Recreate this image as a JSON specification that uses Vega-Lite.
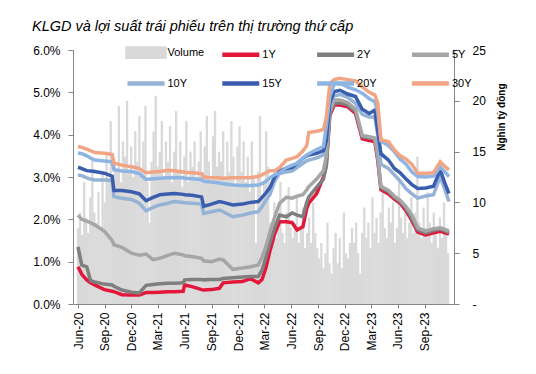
{
  "$schema": "https://vega.github.io/schema/vega-lite/v6.json",
  "width": 381,
  "height": 254,
  "autosize": "none",
  "padding": {"left": 73, "top": 50, "right": 82, "bottom": 70},
  "background": "white",
  "title": {
    "text": "KLGD và lợi suất trái phiếu trên thị trường thứ cấp",
    "anchor": "start",
    "frame": "group",
    "dx": -41,
    "dy": 28,
    "offset": 23,
    "baseline": "alphabetic",
    "font": "Liberation Sans",
    "fontStyle": "italic",
    "fontWeight": "normal",
    "fontSize": 14.5,
    "color": "#000000"
  },
  "config": {
    "view": {"stroke": null},
    "font": "Liberation Sans",
    "axis": {
      "domainColor": "#868686",
      "tickColor": "#868686",
      "labelColor": "#000000",
      "labelFont": "Liberation Sans",
      "labelFontSize": 12,
      "labelOverlap": false,
      "grid": false,
      "tickSize": 5
    },
    "axisX": {
      "format": "%b-%y",
      "labelAngle": -90,
      "labelOverlap": false,
      "labelFlush": false,
      "labelBound": false,
      "tickSize": 4,
      "labelPadding": 4
    }
  },
  "datasets": {
    "vol": [
      {"d":"2020-06-01","v":7.5},{"d":"2020-06-08","v":9},{"d":"2020-06-15","v":6.8},{"d":"2020-06-22","v":12},{"d":"2020-06-29","v":8.5},
      {"d":"2020-07-06","v":7},{"d":"2020-07-13","v":10.5},{"d":"2020-07-20","v":14.5},{"d":"2020-07-27","v":9},
      {"d":"2020-08-03","v":8},{"d":"2020-08-10","v":11},{"d":"2020-08-17","v":7.5},{"d":"2020-08-24","v":13},{"d":"2020-08-31","v":10},
      {"d":"2020-09-07","v":15},{"d":"2020-09-14","v":12},{"d":"2020-09-21","v":18},{"d":"2020-09-28","v":11.5},
      {"d":"2020-10-05","v":14},{"d":"2020-10-12","v":13},{"d":"2020-10-19","v":19.5},{"d":"2020-10-26","v":12},
      {"d":"2020-11-02","v":16},{"d":"2020-11-09","v":14.5},{"d":"2020-11-16","v":20},{"d":"2020-11-23","v":13},{"d":"2020-11-30","v":15.5},
      {"d":"2020-12-07","v":12.5},{"d":"2020-12-14","v":17},{"d":"2020-12-21","v":14},{"d":"2020-12-28","v":18.5},
      {"d":"2021-01-04","v":13},{"d":"2021-01-11","v":16},{"d":"2021-01-18","v":19.5},{"d":"2021-01-25","v":12},
      {"d":"2021-02-01","v":8},{"d":"2021-02-08","v":14},{"d":"2021-02-15","v":17},{"d":"2021-02-22","v":20.5},
      {"d":"2021-03-01","v":13.5},{"d":"2021-03-08","v":15},{"d":"2021-03-15","v":18},{"d":"2021-03-22","v":12.5},{"d":"2021-03-29","v":16},
      {"d":"2021-04-05","v":14},{"d":"2021-04-12","v":17.5},{"d":"2021-04-19","v":12},{"d":"2021-04-26","v":15},
      {"d":"2021-05-03","v":19},{"d":"2021-05-10","v":13},{"d":"2021-05-17","v":16},{"d":"2021-05-24","v":11.5},{"d":"2021-05-31","v":14.5},
      {"d":"2021-06-07","v":18},{"d":"2021-06-14","v":12},{"d":"2021-06-21","v":15},{"d":"2021-06-28","v":13.5},
      {"d":"2021-07-05","v":16},{"d":"2021-07-12","v":12.5},{"d":"2021-07-19","v":14},{"d":"2021-07-26","v":17},
      {"d":"2021-08-02","v":13},{"d":"2021-08-09","v":15.5},{"d":"2021-08-16","v":18.5},{"d":"2021-08-23","v":14},{"d":"2021-08-30","v":12},
      {"d":"2021-09-06","v":16.5},{"d":"2021-09-13","v":19},{"d":"2021-09-20","v":13.5},{"d":"2021-09-27","v":15},
      {"d":"2021-10-04","v":14},{"d":"2021-10-11","v":17},{"d":"2021-10-18","v":12.5},{"d":"2021-10-25","v":16},
      {"d":"2021-11-01","v":13},{"d":"2021-11-08","v":18},{"d":"2021-11-15","v":14.5},{"d":"2021-11-22","v":11.5},{"d":"2021-11-29","v":15.5},
      {"d":"2021-12-06","v":17.5},{"d":"2021-12-13","v":13},{"d":"2021-12-20","v":16},{"d":"2021-12-27","v":12},
      {"d":"2022-01-03","v":14.5},{"d":"2022-01-10","v":11},{"d":"2022-01-17","v":16},{"d":"2022-01-24","v":12.5},{"d":"2022-01-31","v":6},
      {"d":"2022-02-07","v":13},{"d":"2022-02-14","v":18.5},{"d":"2022-02-21","v":10.5},{"d":"2022-02-28","v":12},
      {"d":"2022-03-07","v":17},{"d":"2022-03-14","v":13.5},{"d":"2022-03-21","v":8},{"d":"2022-03-28","v":7},
      {"d":"2022-04-04","v":10},{"d":"2022-04-11","v":6.5},{"d":"2022-04-18","v":8.5},{"d":"2022-04-25","v":12},
      {"d":"2022-05-02","v":7},{"d":"2022-05-09","v":6},{"d":"2022-05-16","v":9},{"d":"2022-05-23","v":11.5},{"d":"2022-05-30","v":7.5},
      {"d":"2022-06-06","v":6.5},{"d":"2022-06-13","v":8},{"d":"2022-06-20","v":10.5},{"d":"2022-06-27","v":6},
      {"d":"2022-07-04","v":7.5},{"d":"2022-07-11","v":9.5},{"d":"2022-07-18","v":5.5},{"d":"2022-07-25","v":7},
      {"d":"2022-08-01","v":8.5},{"d":"2022-08-08","v":6},{"d":"2022-08-15","v":10},{"d":"2022-08-22","v":7},{"d":"2022-08-29","v":5.5},
      {"d":"2022-09-05","v":4.5},{"d":"2022-09-12","v":6},{"d":"2022-09-19","v":3.5},{"d":"2022-09-26","v":5},
      {"d":"2022-10-03","v":8},{"d":"2022-10-10","v":4},{"d":"2022-10-17","v":3},{"d":"2022-10-24","v":5.5},{"d":"2022-10-31","v":7},
      {"d":"2022-11-07","v":4},{"d":"2022-11-14","v":6.5},{"d":"2022-11-21","v":3.5},{"d":"2022-11-28","v":9},
      {"d":"2022-12-05","v":5},{"d":"2022-12-12","v":4.5},{"d":"2022-12-19","v":6},{"d":"2022-12-26","v":7.5},
      {"d":"2023-01-02","v":6},{"d":"2023-01-09","v":8},{"d":"2023-01-16","v":5},{"d":"2023-01-23","v":3},{"d":"2023-01-30","v":7},
      {"d":"2023-02-06","v":9.5},{"d":"2023-02-13","v":6.5},{"d":"2023-02-20","v":8},{"d":"2023-02-27","v":5.5},
      {"d":"2023-03-06","v":10.5},{"d":"2023-03-13","v":7},{"d":"2023-03-20","v":8.5},{"d":"2023-03-27","v":6},
      {"d":"2023-04-03","v":9},{"d":"2023-04-10","v":11},{"d":"2023-04-17","v":7.5},{"d":"2023-04-24","v":6.5},
      {"d":"2023-05-01","v":9.5},{"d":"2023-05-08","v":8},{"d":"2023-05-15","v":10},{"d":"2023-05-22","v":6},{"d":"2023-05-29","v":7.5},
      {"d":"2023-06-05","v":12},{"d":"2023-06-12","v":8.5},{"d":"2023-06-19","v":7},{"d":"2023-06-26","v":9},
      {"d":"2023-07-03","v":6.5},{"d":"2023-07-10","v":8},{"d":"2023-07-17","v":10.5},{"d":"2023-07-24","v":7},{"d":"2023-07-31","v":9},
      {"d":"2023-08-07","v":14.5},{"d":"2023-08-14","v":8},{"d":"2023-08-21","v":6.5},{"d":"2023-08-28","v":9.5},
      {"d":"2023-09-04","v":7.5},{"d":"2023-09-11","v":11},{"d":"2023-09-18","v":8},{"d":"2023-09-25","v":6},
      {"d":"2023-10-02","v":9},{"d":"2023-10-09","v":7},{"d":"2023-10-16","v":5.5},{"d":"2023-10-23","v":8.5},{"d":"2023-10-30","v":6.5},
      {"d":"2023-11-06","v":10},{"d":"2023-11-13","v":7},{"d":"2023-11-20","v":5}
    ],
    "yld": [
      {"d":"2020-06-01","1Y":0.88,"2Y":1.35,"5Y":2.10,"10Y":3.05,"15Y":3.23,"20Y":3.57,"30Y":3.72},
      {"d":"2020-06-14","1Y":0.70,"2Y":0.92,"5Y":2.00,"10Y":3.03,"15Y":3.20,"20Y":3.55,"30Y":3.70},
      {"d":"2020-07-01","1Y":0.57,"2Y":0.88,"5Y":1.96,"10Y":2.98,"15Y":3.15,"20Y":3.50,"30Y":3.66},
      {"d":"2020-07-14","1Y":0.50,"2Y":0.55,"5Y":1.92,"10Y":2.95,"15Y":3.14,"20Y":3.45,"30Y":3.62},
      {"d":"2020-07-28","1Y":0.45,"2Y":0.52,"5Y":1.87,"10Y":2.93,"15Y":3.13,"20Y":3.40,"30Y":3.58},
      {"d":"2020-08-30","1Y":0.34,"2Y":0.47,"5Y":1.72,"10Y":2.93,"15Y":3.09,"20Y":3.38,"30Y":3.56},
      {"d":"2020-09-26","1Y":0.30,"2Y":0.45,"5Y":1.50,"10Y":2.92,"15Y":3.02,"20Y":3.36,"30Y":3.53},
      {"d":"2020-10-02","1Y":0.29,"2Y":0.42,"5Y":1.40,"10Y":2.54,"15Y":2.68,"20Y":3.17,"30Y":3.33},
      {"d":"2020-10-29","1Y":0.22,"2Y":0.33,"5Y":1.34,"10Y":2.50,"15Y":2.68,"20Y":3.14,"30Y":3.28},
      {"d":"2020-12-01","1Y":0.21,"2Y":0.28,"5Y":1.20,"10Y":2.47,"15Y":2.65,"20Y":3.13,"30Y":3.24},
      {"d":"2020-12-28","1Y":0.21,"2Y":0.26,"5Y":1.15,"10Y":2.38,"15Y":2.60,"20Y":3.08,"30Y":3.20},
      {"d":"2021-01-20","1Y":0.27,"2Y":0.44,"5Y":1.18,"10Y":2.20,"15Y":2.44,"20Y":2.94,"30Y":3.10},
      {"d":"2021-02-13","1Y":0.27,"2Y":0.46,"5Y":1.05,"10Y":2.28,"15Y":2.52,"20Y":2.96,"30Y":3.12},
      {"d":"2021-03-08","1Y":0.28,"2Y":0.48,"5Y":1.08,"10Y":2.34,"15Y":2.58,"20Y":2.97,"30Y":3.13},
      {"d":"2021-04-04","1Y":0.29,"2Y":0.49,"5Y":1.15,"10Y":2.38,"15Y":2.60,"20Y":2.98,"30Y":3.16},
      {"d":"2021-04-27","1Y":0.29,"2Y":0.49,"5Y":1.20,"10Y":2.42,"15Y":2.61,"20Y":2.99,"30Y":3.15},
      {"d":"2021-05-27","1Y":0.30,"2Y":0.50,"5Y":1.16,"10Y":2.40,"15Y":2.59,"20Y":2.98,"30Y":3.12},
      {"d":"2021-06-01","1Y":0.45,"2Y":0.57,"5Y":1.14,"10Y":2.39,"15Y":2.58,"20Y":2.97,"30Y":3.11},
      {"d":"2021-06-26","1Y":0.41,"2Y":0.58,"5Y":1.12,"10Y":2.38,"15Y":2.57,"20Y":2.96,"30Y":3.10},
      {"d":"2021-07-29","1Y":0.34,"2Y":0.58,"5Y":1.08,"10Y":2.36,"15Y":2.53,"20Y":2.94,"30Y":3.08},
      {"d":"2021-08-05","1Y":0.33,"2Y":0.57,"5Y":1.02,"10Y":2.14,"15Y":2.31,"20Y":2.90,"30Y":3.00},
      {"d":"2021-09-01","1Y":0.34,"2Y":0.58,"5Y":1.00,"10Y":2.18,"15Y":2.36,"20Y":2.88,"30Y":2.98},
      {"d":"2021-09-28","1Y":0.37,"2Y":0.58,"5Y":1.06,"10Y":2.22,"15Y":2.42,"20Y":2.86,"30Y":2.98},
      {"d":"2021-10-11","1Y":0.50,"2Y":0.60,"5Y":1.04,"10Y":2.18,"15Y":2.40,"20Y":2.84,"30Y":2.97},
      {"d":"2021-11-13","1Y":0.52,"2Y":0.62,"5Y":0.82,"10Y":2.06,"15Y":2.34,"20Y":2.81,"30Y":2.98},
      {"d":"2021-12-16","1Y":0.53,"2Y":0.64,"5Y":0.85,"10Y":2.10,"15Y":2.36,"20Y":2.80,"30Y":2.98},
      {"d":"2022-01-12","1Y":0.60,"2Y":0.65,"5Y":0.88,"10Y":2.15,"15Y":2.40,"20Y":2.80,"30Y":2.99},
      {"d":"2022-02-08","1Y":0.50,"2Y":0.65,"5Y":0.92,"10Y":2.18,"15Y":2.42,"20Y":2.81,"30Y":3.01},
      {"d":"2022-02-21","1Y":0.58,"2Y":0.80,"5Y":1.10,"10Y":2.30,"15Y":2.52,"20Y":2.84,"30Y":3.05},
      {"d":"2022-03-06","1Y":0.85,"2Y":1.10,"5Y":1.35,"10Y":2.45,"15Y":2.62,"20Y":2.90,"30Y":3.10},
      {"d":"2022-03-20","1Y":1.25,"2Y":1.45,"5Y":1.70,"10Y":2.58,"15Y":2.75,"20Y":2.98,"30Y":3.15},
      {"d":"2022-04-05","1Y":1.65,"2Y":1.80,"5Y":2.05,"10Y":2.90,"15Y":3.00,"20Y":3.05,"30Y":3.15},
      {"d":"2022-04-22","1Y":1.94,"2Y":2.10,"5Y":2.38,"10Y":3.08,"15Y":3.15,"20Y":3.10,"30Y":3.22},
      {"d":"2022-05-15","1Y":1.94,"2Y":2.06,"5Y":2.52,"10Y":3.12,"15Y":3.20,"20Y":3.22,"30Y":3.40},
      {"d":"2022-06-04","1Y":1.92,"2Y":2.15,"5Y":2.50,"10Y":3.14,"15Y":3.22,"20Y":3.28,"30Y":3.44},
      {"d":"2022-06-21","1Y":1.75,"2Y":2.10,"5Y":2.55,"10Y":3.22,"15Y":3.32,"20Y":3.32,"30Y":3.48},
      {"d":"2022-07-11","1Y":1.83,"2Y":2.06,"5Y":2.58,"10Y":3.32,"15Y":3.44,"20Y":3.45,"30Y":3.62},
      {"d":"2022-07-24","1Y":2.25,"2Y":2.40,"5Y":2.70,"10Y":3.38,"15Y":3.50,"20Y":3.52,"30Y":3.74},
      {"d":"2022-07-31","1Y":2.38,"2Y":2.53,"5Y":2.77,"10Y":3.40,"15Y":3.52,"20Y":3.55,"30Y":4.05},
      {"d":"2022-08-27","1Y":2.61,"2Y":2.76,"5Y":2.95,"10Y":3.45,"15Y":3.56,"20Y":3.65,"30Y":4.08},
      {"d":"2022-09-19","1Y":3.00,"2Y":2.95,"5Y":3.15,"10Y":3.52,"15Y":3.62,"20Y":3.72,"30Y":4.12},
      {"d":"2022-09-29","1Y":3.30,"2Y":3.25,"5Y":3.50,"10Y":3.90,"15Y":3.85,"20Y":4.20,"30Y":4.40},
      {"d":"2022-10-11","1Y":4.45,"2Y":4.50,"5Y":4.55,"10Y":4.70,"15Y":4.75,"20Y":4.90,"30Y":5.20},
      {"d":"2022-10-26","1Y":4.70,"2Y":4.74,"5Y":4.82,"10Y":4.92,"15Y":5.02,"20Y":5.20,"30Y":5.30},
      {"d":"2022-11-15","1Y":4.70,"2Y":4.75,"5Y":4.82,"10Y":4.95,"15Y":5.05,"20Y":5.22,"30Y":5.33},
      {"d":"2022-12-11","1Y":4.66,"2Y":4.70,"5Y":4.76,"10Y":4.88,"15Y":4.96,"20Y":5.12,"30Y":5.30},
      {"d":"2023-01-07","1Y":4.50,"2Y":4.55,"5Y":4.60,"10Y":4.74,"15Y":4.90,"20Y":5.06,"30Y":5.27},
      {"d":"2023-01-30","1Y":3.90,"2Y":3.95,"5Y":3.98,"10Y":4.48,"15Y":4.60,"20Y":4.98,"30Y":5.13},
      {"d":"2023-02-23","1Y":3.86,"2Y":3.92,"5Y":3.95,"10Y":4.42,"15Y":4.50,"20Y":4.85,"30Y":5.00},
      {"d":"2023-03-14","1Y":3.84,"2Y":3.90,"5Y":3.92,"10Y":4.42,"15Y":4.58,"20Y":4.78,"30Y":4.94},
      {"d":"2023-03-24","1Y":3.40,"2Y":3.45,"5Y":3.50,"10Y":4.00,"15Y":4.10,"20Y":4.55,"30Y":4.75},
      {"d":"2023-04-04","1Y":2.70,"2Y":2.75,"5Y":2.78,"10Y":3.30,"15Y":3.55,"20Y":3.85,"30Y":3.88},
      {"d":"2023-04-30","1Y":2.60,"2Y":2.65,"5Y":2.68,"10Y":3.20,"15Y":3.40,"20Y":3.74,"30Y":3.83},
      {"d":"2023-05-20","1Y":2.48,"2Y":2.52,"5Y":2.55,"10Y":3.05,"15Y":3.20,"20Y":3.60,"30Y":3.64},
      {"d":"2023-06-09","1Y":2.38,"2Y":2.42,"5Y":2.45,"10Y":2.90,"15Y":3.10,"20Y":3.42,"30Y":3.50},
      {"d":"2023-06-29","1Y":2.20,"2Y":2.25,"5Y":2.30,"10Y":2.72,"15Y":2.95,"20Y":3.30,"30Y":3.42},
      {"d":"2023-07-19","1Y":1.97,"2Y":2.02,"5Y":2.10,"10Y":2.60,"15Y":2.82,"20Y":3.12,"30Y":3.30},
      {"d":"2023-08-08","1Y":1.70,"2Y":1.75,"5Y":1.80,"10Y":2.50,"15Y":2.73,"20Y":3.01,"30Y":3.09},
      {"d":"2023-09-04","1Y":1.63,"2Y":1.68,"5Y":1.72,"10Y":2.55,"15Y":2.74,"20Y":3.00,"30Y":3.09},
      {"d":"2023-10-01","1Y":1.68,"2Y":1.74,"5Y":1.78,"10Y":2.58,"15Y":2.78,"20Y":3.02,"30Y":3.10},
      {"d":"2023-10-24","1Y":1.72,"2Y":1.77,"5Y":1.80,"10Y":3.01,"15Y":3.17,"20Y":3.24,"30Y":3.36},
      {"d":"2023-11-09","1Y":1.68,"2Y":1.73,"5Y":1.76,"10Y":2.70,"15Y":2.85,"20Y":3.12,"30Y":3.25},
      {"d":"2023-11-23","1Y":1.65,"2Y":1.68,"5Y":1.72,"10Y":2.42,"15Y":2.61,"20Y":3.01,"30Y":3.17}
    ]
  },
  "layer": [
    {
      "data": {"name": "vol"},
      "mark": {"type": "bar", "color": "#D9D9D9", "width": 2.3, "clip": true},
      "encoding": {
        "x": {
          "field": "d",
          "type": "temporal",
          "scale": {
            "type": "utc",
            "domain": [1590969600000, 1700697600000]
          },
          "axis": {
            "title": null,
            "values": [
              1590969600000, 1598918400000, 1606780800000, 1614556800000,
              1622505600000, 1630454400000, 1638316800000, 1646092800000,
              1654041600000, 1661990400000, 1669852800000, 1677628800000,
              1685577600000, 1693526400000
            ]
          }
        },
        "y": {
          "field": "v",
          "type": "quantitative",
          "scale": {"domain": [0, 25], "nice": false},
          "axis": {
            "orient": "right",
            "values": [0, 5, 10, 15, 20, 25],
            "labelExpr": "datum.value == 0 ? '-' : datum.label",
            "labelPadding": 13,
            "title": "Nghìn tỷ đồng",
            "titleAngle": 270,
            "titleX": 47,
            "titleY": 33,
            "titleAlign": "right",
            "titleBaseline": "middle",
            "titleFont": "Liberation Sans",
            "titleFontWeight": "bold",
            "titleFontSize": 10,
            "titleColor": "#000000"
          }
        }
      }
    },
    {
      "data": {"name": "yld"},
      "transform": [{"fold": ["1Y", "2Y", "5Y", "10Y", "15Y", "20Y", "30Y"], "as": ["s", "r"]}],
      "mark": {"type": "line", "strokeWidth": 3.5, "clip": true},
      "encoding": {
        "x": {
          "field": "d",
          "type": "temporal",
          "axis": {
            "title": null,
            "values": [
              1590969600000, 1598918400000, 1606780800000, 1614556800000,
              1622505600000, 1630454400000, 1638316800000, 1646092800000,
              1654041600000, 1661990400000, 1669852800000, 1677628800000,
              1685577600000, 1693526400000
            ]
          }
        },
        "y": {
          "field": "r",
          "type": "quantitative",
          "scale": {"domain": [0, 6], "nice": false},
          "axis": {
            "orient": "left",
            "values": [0, 1, 2, 3, 4, 5, 6],
            "labelExpr": "format(datum.value, '.1f') + '%'",
            "labelPadding": 8,
            "title": null
          }
        },
        "color": {
          "field": "s",
          "type": "nominal",
          "scale": {
            "domain": ["Volume", "1Y", "2Y", "5Y", "10Y", "15Y", "20Y", "30Y"],
            "range": ["#D9D9D9", "#E3173A", "#7F7F7F", "#A6A6A6", "#95B3D7", "#3A5DAE", "#8DB4E2", "#F2A584"]
          },
          "legend": {
            "orient": "none",
            "direction": "horizontal",
            "legendX": 60.5,
            "legendY": -10,
            "columns": 4,
            "gridAlign": "all",
            "columnPadding": 8.8,
            "rowPadding": 5,
            "padding": 0,
            "title": null,
            "symbolSize": 400,
            "symbolType": "M-1.85,0H1.85",
            "symbolStrokeWidth": 4.5,
            "labelOffset": 9,
            "labelFont": "Liberation Sans",
            "labelFontSize": 11,
            "labelColor": "#000000",
            "encode": {
              "symbols": {
                "update": {
                  "shape": {"signal": "datum.value === 'Volume' ? 'M-1.85,-0.42H1.85V0.42H-1.85Z' : 'M-1.85,0H1.85'"},
                  "fill": {"signal": "datum.value === 'Volume' ? '#D9D9D9' : 'transparent'"},
                  "stroke": {"signal": "datum.value === 'Volume' ? 'transparent' : scale('color', datum.value)"},
                  "strokeWidth": {"value": 4.5},
                  "opacity": {"value": 1}
                }
              }
            }
          }
        }
      }
    }
  ],
  "resolve": {"scale": {"y": "independent"}}
}
